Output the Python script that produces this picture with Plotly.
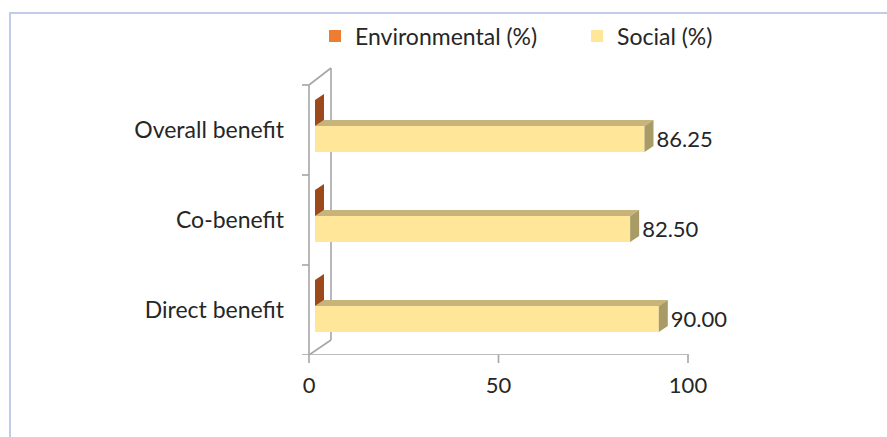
import plotly.graph_objects as go

# ---------------- data ----------------
categories = ["Direct benefit", "Co-benefit", "Overall benefit"]
environmental = [0.0, 0.0, 0.0]
social = [90.00, 82.50, 86.25]
x_tick_values = [0, 50, 100]
x_tick_labels = ["0", "50", "100"]
series_names = ["Environmental (%)", "Social (%)"]

# ---------------- geometry / style ----------------
PAGE_W, PAGE_H = 887, 437
L, R, T, B = 295, 887, 4, 355            # plot area in px
AX0_PX, AX_SCALE = 309, 3.79             # front axis: value 0 px, px per unit
BAR0_PX, BAR_SCALE = 315, 3.82           # bar front plane
CAT_PX = 90.0                            # px per category band
DEPTH_DX = 9 / BAR_SCALE                 # 3d depth offset (x2 units)
DEPTH_DY = 6 / CAT_PX                    # 3d depth offset (y units)
LABEL_GAP = 3 / BAR_SCALE
LABEL_DROP = 2 / CAT_PX
WALL_DX = 22 / AX_SCALE
WALL_DY_TOP = 17 / CAT_PX
WALL_DY_BOT = 15 / CAT_PX
BAR_H = 26 / CAT_PX
SOC_OFF = -22 / CAT_PX                   # social bar lower edge relative to category
ENV_OFF = SOC_OFF + BAR_H
TICK_LEN_PX = 8

FONT = "Lato"
FS = 22
FS_TXT = 23
TXT = "#262626"
AXC = "#A6A6A6"
C_ENV = "#ED7D31"
C_ENV_SIDE = "#9C4A1C"
C_SOC = "#FFE699"
C_SOC_TOP = "#C6B47B"
C_SOC_SIDE = "#A99B65"

pos = list(range(len(categories)))

def px_x(px):
    return (px - L) / (R - L)

def px_y(py):
    return (B - py) / (B - T)

fig = go.Figure()

fig.add_trace(go.Bar(
    name=series_names[0], orientation="h", x=environmental, y=pos, base=0,
    width=BAR_H, offset=ENV_OFF, xaxis="x2", yaxis="y",
    marker=dict(color=C_ENV, line=dict(width=0)), hoverinfo="skip"))
fig.add_trace(go.Bar(
    name=series_names[1], orientation="h", x=social, y=pos, base=0,
    width=BAR_H, offset=SOC_OFF, xaxis="x2", yaxis="y",
    marker=dict(color=C_SOC, line=dict(width=0)), hoverinfo="skip"))

# data labels
fig.add_trace(go.Scatter(
    x=[v + DEPTH_DX + LABEL_GAP for v in social],
    y=[p + SOC_OFF + BAR_H / 2 - LABEL_DROP for p in pos],
    xaxis="x2", yaxis="y", mode="text", text=[f"{v:.2f}" for v in social],
    textposition="middle right", textfont=dict(family=FONT, size=FS, color=TXT),
    showlegend=False, cliponaxis=False, hoverinfo="skip"))

shapes = []
# frame border
shapes.append(dict(type="rect", xref="paper", yref="paper",
                   x0=px_x(10), x1=px_x(PAGE_W + 20), y0=px_y(PAGE_H + 20), y1=px_y(13),
                   line=dict(color="#C3CCE6", width=2), layer="below"))

y_lo, y_hi = -0.5, len(categories) - 0.5
# back wall
line_style = dict(color=AXC, width=1.6)
shapes.append(dict(type="line", xref="x", yref="y", x0=WALL_DX, x1=WALL_DX,
                   y0=y_lo + WALL_DY_BOT, y1=y_hi + WALL_DY_TOP, line=line_style, layer="below"))
shapes.append(dict(type="line", xref="x", yref="y", x0=0, x1=WALL_DX,
                   y0=y_hi, y1=y_hi + WALL_DY_TOP, line=line_style, layer="below"))
shapes.append(dict(type="line", xref="x", yref="y", x0=0, x1=WALL_DX,
                   y0=y_lo, y1=y_lo + WALL_DY_BOT, line=line_style, layer="below"))
# front axes
shapes.append(dict(type="line", xref="x", yref="y", x0=0, x1=0, y0=y_lo, y1=y_hi,
                   line=line_style, layer="below"))
shapes.append(dict(type="line", xref="x", yref="y", x0=0, x1=x_tick_values[-1] + 0.3,
                   y0=y_lo, y1=y_lo, line=line_style, layer="below"))
for k in range(len(categories) + 1):
    yb = y_lo + k
    shapes.append(dict(type="line", xref="x", yref="y", x0=-7 / AX_SCALE, x1=0,
                       y0=yb, y1=yb, line=line_style, layer="below"))
# x tick marks below the axis
for tv in x_tick_values:
    shapes.append(dict(type="line", xref="x", yref="paper", x0=tv, x1=tv,
                       y0=px_y(B), y1=px_y(B + TICK_LEN_PX), line=line_style, layer="below"))

# 3d faces of the bars
def poly(pts):
    return "M " + " L ".join(f"{a},{b}" for a, b in pts) + " Z"

for p, v in zip(pos, social):
    y0 = p + SOC_OFF
    y1 = y0 + BAR_H
    top = [(0, y1), (v, y1), (v + DEPTH_DX, y1 + DEPTH_DY), (DEPTH_DX, y1 + DEPTH_DY)]
    side = [(v, y0), (v, y1), (v + DEPTH_DX, y1 + DEPTH_DY), (v + DEPTH_DX, y0 + DEPTH_DY)]
    shapes.append(dict(type="path", xref="x2", yref="y", path=poly(top),
                       fillcolor=C_SOC_TOP, line=dict(width=0), layer="above"))
    shapes.append(dict(type="path", xref="x2", yref="y", path=poly(side),
                       fillcolor=C_SOC_SIDE, line=dict(width=0), layer="above"))

for p, v in zip(pos, environmental):
    y0 = p + ENV_OFF
    y1 = y0 + BAR_H
    side = [(v, y0), (v, y1), (v + DEPTH_DX, y1 + DEPTH_DY), (v + DEPTH_DX, y0 + DEPTH_DY)]
    shapes.append(dict(type="path", xref="x2", yref="y", path=poly(side),
                       fillcolor=C_ENV_SIDE, line=dict(width=0), layer="above"))

fig.update_layout(
    width=PAGE_W, height=PAGE_H,
    margin=dict(l=L, r=PAGE_W - R, t=T, b=PAGE_H - B, pad=0),
    paper_bgcolor="white", plot_bgcolor="rgba(0,0,0,0)",
    barmode="overlay",
    font=dict(family=FONT, size=FS, color=TXT),
    showlegend=True,
    legend=dict(orientation="h", x=px_x(315), xanchor="left", y=px_y(36), yanchor="middle",
                font=dict(family=FONT, size=FS_TXT, color=TXT), entrywidth=217,
                bgcolor="rgba(0,0,0,0)", traceorder="normal"),
    xaxis=dict(range=[(L - AX0_PX) / AX_SCALE, (R - AX0_PX) / AX_SCALE],
               tickvals=x_tick_values, ticktext=x_tick_labels,
               showgrid=False, zeroline=False, showline=False,
               ticks="", ticklabelstandoff=15,
               tickfont=dict(family=FONT, size=FS, color=TXT), fixedrange=True),
    xaxis2=dict(range=[(L - BAR0_PX) / BAR_SCALE, (R - BAR0_PX) / BAR_SCALE],
                overlaying="x", anchor="y", visible=False, fixedrange=True),
    yaxis=dict(range=[y_lo, (B - T) / CAT_PX - 0.5],
               tickvals=pos, ticktext=categories,
               showgrid=False, zeroline=False, showline=False, ticks="",
               ticklabelstandoff=10,
               tickfont=dict(family=FONT, size=FS_TXT, color=TXT), fixedrange=True),
    shapes=shapes,
)

fig.write_html("out.html")
